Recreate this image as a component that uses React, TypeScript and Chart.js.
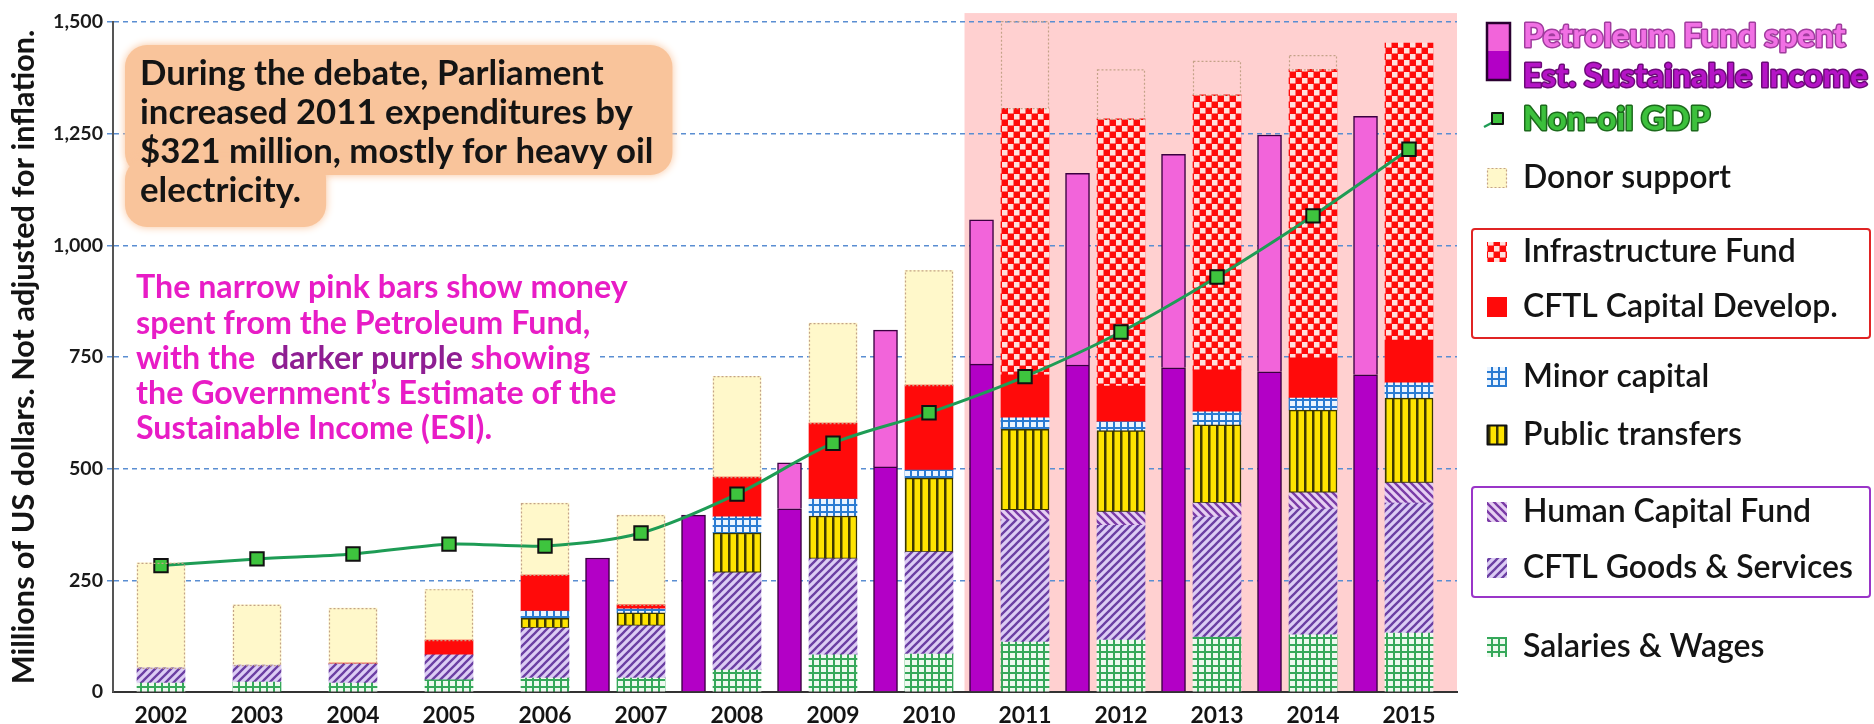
import React, { useEffect, useRef } from 'react';
import { Chart, registerables } from 'chart.js';

Chart.register(...registerables);

// ---------------- data ----------------
const years = ['2002', '2003', '2004', '2005', '2006', '2007', '2008', '2009', '2010', '2011', '2012', '2013', '2014', '2015'];
const yTicks = [0, 250, 500, 750, 1000, 1250, 1500];

const salariesWages = [20, 22, 20, 27, 31, 31, 49, 83, 85, 112, 116, 123, 128, 132];
const goodsServices = [34, 38, 43, 56, 112, 117, 218, 215, 228, 273, 257, 269, 282, 291];
const humanCapitalFund = [null, null, null, null, null, null, null, null, null, 22, 30, 31, 36, 45];
const publicTransfers = [null, null, null, null, 22, 29, 89, 96, 166, 181, 182, 175, 185, 190];
const minorCapital = [null, null, null, null, 16, 9, 36, 38, 18, 26, 20, 29, 27, 34];
const capitalDevelop = [null, null, 2, 33, 81, 9, 89, 170, 190, 96, 80, 94, 90, 96];
const infrastructureFund = [null, null, null, null, null, null, null, null, null, 597, 598, 616, 646, 665];
const donorSupport = [235, 135, 123, 114, 161, 201, 226, 224, 257, 195, 111, 76, 32, null];

const pfYears = ['2007', '2008', '2009', '2010', '2011', '2012', '2013', '2014', '2015'];
const pfEsi = [300, 396, 410, 504, 734, 732, 726, 717, 710];
const pfAboveEsi = [null, null, 103, 306, 323, 429, 478, 530, 579];

const nonOilGdp = [283, 298, 309, 331, 327, 356, 443, 557, 625, 706, 806, 929, 1066, 1215];

const L_PF = 'Petroleum Fund spent';
const L_ESI = 'Est. Sustainable Income';
const L_GDP = 'Non-oil GDP';
const L_DONOR = 'Donor support';
const L_INFRA = 'Infrastructure Fund';
const L_CAP = 'CFTL Capital Develop.';
const L_MINOR = 'Minor capital';
const L_PUBLIC = 'Public transfers';
const L_HCF = 'Human Capital Fund';
const L_GOODS = 'CFTL Goods & Services';
const L_SAL = 'Salaries & Wages';

const Y_TITLE = 'Millions of US dollars. Not adjusted for inflation.';
const ORANGE_NOTE = [
  'During the debate, Parliament',
  'increased 2011 expenditures by',
  '$321 million, mostly for heavy oil',
  'electricity.',
];
const MAGENTA_NOTE = [
  'The narrow pink bars show money',
  'spent from the Petroleum Fund,',
  'with the  |darker purple| showing',
  'the Government\u2019s Estimate of the',
  'Sustainable Income (ESI).',
];

// ---------------- styles ----------------
const FAMILY = "Lato, 'Noto Sans', 'DejaVu Sans', sans-serif";
const PINK = '#F264DA';
const PURPLE = '#B300C6';
const BG_PINK = '#FFD0D0';
const DONOR_FILL = '#FFF8CA';
const RED = '#FF0A0A';
const NARROW_SHIFT = 0.453;

function makePattern(w: number, h: number, draw: (g: CanvasRenderingContext2D) => void) {
  const c = document.createElement('canvas');
  c.width = w;
  c.height = h;
  const g = c.getContext('2d')!;
  draw(g);
  return g.createPattern(c, 'repeat')!;
}

export default function App() {
  const ref = useRef<HTMLCanvasElement>(null);

  useEffect(() => {
    const canvas = ref.current!;
    const mctx = document.createElement('canvas').getContext('2d')!;
    const fit = (text: string, weight: string, target: number) => {
      mctx.font = `${weight} 100px ${FAMILY}`;
      return (100 * target) / mctx.measureText(text).width;
    };
    const yTitleSize = fit(Y_TITLE, 'bold', 655);
    const yTickSize = fit('1,500', 'bold', 50);
    const xTickSize = fit('2002', 'bold', 53);
    const orangeSize = fit(ORANGE_NOTE[1], 'bold', 493);
    const magentaSize = fit(MAGENTA_NOTE[0], 'bold', 492);
    const legendSize = fit(L_GOODS, '600', 330);
    const legendOutSize = fit(L_ESI, '900', 345);

    // patterns
    const salPat = makePattern(7, 7, (g) => {
      g.fillStyle = '#EEF9EF';
      g.fillRect(0, 0, 7, 7);
      g.fillStyle = '#36A85A';
      g.fillRect(0, 0, 7, 2);
      g.fillRect(0, 0, 2, 7);
    });
    const minorPat = makePattern(7, 7, (g) => {
      g.fillStyle = '#EAF4FF';
      g.fillRect(0, 0, 7, 7);
      g.fillStyle = '#2A7BD2';
      g.fillRect(0, 0, 7, 2);
      g.fillRect(0, 0, 2, 7);
    });
    const goodsPat = makePattern(8, 8, (g) => {
      g.fillStyle = '#DCCDF4';
      g.fillRect(0, 0, 8, 8);
      g.strokeStyle = '#6B3FA3';
      g.lineWidth = 2.3;
      g.beginPath();
      g.moveTo(-1, 9); g.lineTo(9, -1);
      g.moveTo(-5, 5); g.lineTo(5, -5);
      g.moveTo(3, 13); g.lineTo(13, 3);
      g.stroke();
    });
    const hcfPat = makePattern(8, 8, (g) => {
      g.fillStyle = '#E6CFF2';
      g.fillRect(0, 0, 8, 8);
      g.strokeStyle = '#7A3AA6';
      g.lineWidth = 2.3;
      g.beginPath();
      g.moveTo(-1, -1); g.lineTo(9, 9);
      g.moveTo(-5, 3); g.lineTo(5, 13);
      g.moveTo(3, -5); g.lineTo(13, 5);
      g.stroke();
    });
    const pubPat = makePattern(8, 8, (g) => {
      g.fillStyle = '#FFE400';
      g.fillRect(0, 0, 8, 8);
      g.fillStyle = '#3F3A00';
      g.fillRect(0, 0, 2.5, 8);
    });
    const infraPat = makePattern(12, 12, (g) => {
      g.fillStyle = RED;
      g.fillRect(0, 0, 12, 12);
      g.fillStyle = '#FFE0DC';
      g.fillRect(0, 0, 5.5, 5.5);
      g.fillRect(6, 6, 5.5, 5.5);
    });

    const pfX = (yr: string) => years.indexOf(yr) - NARROW_SHIFT;

    const wide = (label: string, data: any[], bg: any, extra: any = {}) => ({
      type: 'bar',
      label,
      data,
      xAxisID: 'x',
      yAxisID: 'y',
      stack: 'main',
      order: 2,
      grouped: false,
      barThickness: 48,
      backgroundColor: bg,
      borderWidth: 0,
      ...extra,
    });

    const donorFill = years.map((_, i) => (i >= 9 ? 'rgba(0,0,0,0)' : DONOR_FILL));

    const datasets: any[] = [
      {
        type: 'line',
        label: L_GDP,
        data: nonOilGdp,
        xAxisID: 'x',
        yAxisID: 'y',
        stack: 'gdp',
        order: 0,
        borderColor: '#1E9C55',
        borderWidth: 3,
        tension: 0.3,
        pointStyle: 'rect',
        pointRadius: 9.5,
        pointBackgroundColor: '#3EC43E',
        pointBorderColor: '#111',
        pointBorderWidth: 2,
      },
      wide(L_SAL, salariesWages, salPat),
      wide(L_GOODS, goodsServices, goodsPat),
      wide(L_HCF, humanCapitalFund, hcfPat),
      wide(L_PUBLIC, publicTransfers, pubPat, { borderWidth: 1.5, borderColor: '#3A3600', borderSkipped: false }),
      wide(L_MINOR, minorCapital, minorPat),
      wide(L_CAP, capitalDevelop, RED),
      wide(L_INFRA, infrastructureFund, infraPat),
      wide(L_DONOR, donorSupport, donorFill),
      {
        type: 'bar',
        label: L_ESI,
        data: pfYears.map((yr, i) => ({ x: pfX(yr), y: pfEsi[i] })),
        xAxisID: 'x2',
        yAxisID: 'y',
        stack: 'pf',
        order: 1,
        grouped: false,
        barThickness: 24,
        backgroundColor: PURPLE,
        borderColor: '#3A0040',
        borderWidth: 1.5,
      },
      {
        type: 'bar',
        label: L_PF,
        data: pfYears.map((yr, i) => ({ x: pfX(yr), y: pfAboveEsi[i] })),
        xAxisID: 'x2',
        yAxisID: 'y',
        stack: 'pf',
        order: 1,
        grouped: false,
        barThickness: 24,
        backgroundColor: PINK,
        borderColor: '#3A0040',
        borderWidth: 1.5,
      },
    ];
    const donorIndex = datasets.findIndex((d) => d.label === L_DONOR);

    const bgPlugin = {
      id: 'bgRegion',
      beforeDraw(chart: any) {
        const { ctx, chartArea } = chart;
        const x2 = chart.scales.x2;
        const y = chart.scales.y;
        const left = x2.getPixelForValue(years.indexOf('2011') - 0.63);
        const top = y.getPixelForValue(1520);
        ctx.save();
        ctx.fillStyle = BG_PINK;
        ctx.fillRect(left, top, chartArea.right - left, chartArea.bottom - top);
        ctx.restore();
      },
    };

    const overlayPlugin = {
      id: 'overlay',
      afterDatasetsDraw(chart: any) {
        const { ctx } = chart;
        // dotted outlines of donor support
        const meta = chart.getDatasetMeta(donorIndex);
        ctx.save();
        ctx.setLineDash([2, 2]);
        ctx.strokeStyle = '#C4A288';
        ctx.lineWidth = 1.2;
        meta.data.forEach((el: any, i: number) => {
          if (donorSupport[i] == null) return;
          const p = el.getProps(['x', 'y', 'base', 'width'], true);
          if (!isFinite(p.y)) return;
          ctx.strokeRect(p.x - p.width / 2 + 0.5, p.y + 0.5, p.width - 1, p.base - p.y);
        });
        ctx.restore();

        // orange note
        ctx.save();
        ctx.font = `bold ${orangeSize}px ${FAMILY}`;
        const oBase = [85, 124, 163, 202];
        const widths = ORANGE_NOTE.map((l) => ctx.measureText(l).width);
        const wTop = Math.max(widths[0], widths[1], widths[2]);
        ctx.fillStyle = '#F9C49B';
        ctx.shadowColor = '#F9C49B';
        ctx.shadowBlur = 8;
        ctx.beginPath();
        ctx.roundRect(125, oBase[0] - 40, wTop + 34, oBase[2] - oBase[0] + 52, 22);
        ctx.fill();
        ctx.beginPath();
        ctx.roundRect(125, oBase[3] - 44, widths[3] + 40, 69, 22);
        ctx.fill();
        ctx.shadowBlur = 0;
        ctx.fillStyle = '#141414';
        ctx.textBaseline = 'alphabetic';
        ORANGE_NOTE.forEach((line, i) => ctx.fillText(line, 140, oBase[i]));
        ctx.restore();

        // magenta note
        ctx.save();
        ctx.font = `bold ${magentaSize}px ${FAMILY}`;
        ctx.textBaseline = 'middle';
        const mY = [288, 324, 359, 394, 429];
        MAGENTA_NOTE.forEach((line, i) => {
          const parts = line.split('|');
          const w = ctx.measureText(parts.join('')).width;
          ctx.fillStyle = '#FFFFFF';
          ctx.fillRect(128, mY[i] - 16, w + 16, 32);
          let x = 136;
          parts.forEach((p, k) => {
            ctx.fillStyle = k === 1 ? '#8E1E92' : '#E81CC6';
            ctx.fillText(p, x, mY[i]);
            x += ctx.measureText(p).width;
          });
        });
        ctx.restore();
      },
      afterDraw(chart: any) {
        const { ctx } = chart;
        const IX = 1487;
        const TX = 1523;
        ctx.save();
        ctx.textBaseline = 'middle';
        const outlined = (t: string, y: number, fill: string, stroke: string) => {
          ctx.font = `900 ${legendOutSize}px ${FAMILY}`;
          ctx.lineJoin = 'round';
          ctx.lineWidth = 3;
          ctx.strokeStyle = stroke;
          ctx.strokeText(t, TX, y);
          ctx.fillStyle = fill;
          ctx.fillText(t, TX, y);
        };
        const plain = (t: string, y: number) => {
          ctx.font = `600 ${legendSize}px ${FAMILY}`;
          ctx.fillStyle = '#141414';
          ctx.fillText(t, TX, y);
        };
        const icon = (y: number, fill: any, border?: string, dash?: boolean) => {
          ctx.fillStyle = fill;
          ctx.fillRect(IX, y - 10, 20, 20);
          if (border) {
            ctx.save();
            if (dash) ctx.setLineDash([2, 2]);
            ctx.strokeStyle = border;
            ctx.lineWidth = dash ? 1.2 : 2;
            ctx.strokeRect(IX + 0.5, y - 9.5, 19, 19);
            ctx.restore();
          }
        };

        // petroleum fund icon
        ctx.fillStyle = PINK;
        ctx.fillRect(IX, 23, 23, 28);
        ctx.fillStyle = PURPLE;
        ctx.fillRect(IX, 51, 23, 29);
        ctx.strokeStyle = '#2A0030';
        ctx.lineWidth = 2.5;
        ctx.strokeRect(IX, 23, 23, 57);
        outlined(L_PF, 36, '#F170E4', '#A03C9E');
        outlined(L_ESI, 76, '#B514C6', '#6C0A78');

        // gdp icon
        ctx.strokeStyle = '#1E9C55';
        ctx.lineWidth = 2.5;
        ctx.beginPath();
        ctx.moveTo(IX - 3, 127);
        ctx.lineTo(IX + 10, 120);
        ctx.stroke();
        ctx.fillStyle = '#3EC43E';
        ctx.fillRect(IX + 5, 113, 11, 11);
        ctx.strokeStyle = '#111';
        ctx.lineWidth = 2;
        ctx.strokeRect(IX + 5, 113, 11, 11);
        outlined(L_GDP, 119, '#3CC03C', '#1C6A1C');

        icon(178, DONOR_FILL, '#C4A288', true);
        plain(L_DONOR, 178);

        ctx.strokeStyle = '#E02424';
        ctx.lineWidth = 2;
        ctx.beginPath();
        ctx.roundRect(1472, 229, 398, 109, 3);
        ctx.stroke();
        icon(252, infraPat);
        plain(L_INFRA, 252);
        icon(307, RED);
        plain(L_CAP, 307);

        icon(377, minorPat);
        plain(L_MINOR, 377);
        icon(435, pubPat, '#111');
        plain(L_PUBLIC, 435);

        ctx.strokeStyle = '#9A35C8';
        ctx.lineWidth = 2;
        ctx.beginPath();
        ctx.roundRect(1472, 487, 398, 110, 3);
        ctx.stroke();
        icon(512, hcfPat);
        plain(L_HCF, 512);
        icon(568, goodsPat);
        plain(L_GOODS, 568);

        icon(647, salPat);
        plain(L_SAL, 647);
        ctx.restore();
      },
    };

    const chart = new Chart(canvas, {
      type: 'bar',
      data: { labels: years, datasets },
      options: {
        responsive: false,
        animation: false,
        devicePixelRatio: 1,
        layout: { padding: { left: 0, top: 22, right: 417, bottom: 0 } },
        plugins: { legend: { display: false }, tooltip: { enabled: false } },
        scales: {
          x: {
            type: 'category',
            labels: years,
            offset: true,
            grid: { display: false },
            border: { display: true, color: '#333', width: 2 },
            ticks: {
              font: { family: FAMILY, size: xTickSize, weight: 'bold' },
              color: '#141414',
              padding: 2,
              maxRotation: 0,
              autoSkip: false,
            },
            afterFit: (s: any) => {
              s.height = 32;
            },
          },
          x2: {
            type: 'linear',
            display: false,
            offset: false,
            bounds: 'data',
            grace: 0,
            min: -0.5,
            max: 13.5,
            grid: { offset: false },
            afterBuildTicks: (s: any) => {
              s.ticks = [{ value: -0.5 }, { value: 13.5 }];
              s.min = -0.5;
              s.max = 13.5;
            },
          },
          y: {
            stacked: true,
            min: 0,
            max: 1500,
            afterBuildTicks: (s: any) => {
              s.ticks = yTicks.map((v) => ({ value: v }));
            },
            ticks: {
              font: { family: FAMILY, size: yTickSize, weight: 'bold' },
              color: '#1a1a1a',
              padding: 4,
              callback: (v: any) => Number(v).toLocaleString('en-US'),
            },
            grid: {
              color: (c: any) => (c.tick && c.tick.value === 0 ? 'rgba(0,0,0,0)' : '#5A8ED2'),
              lineWidth: 1.5,
              tickLength: 6,
            },
            border: { display: true, color: '#555', width: 2, dash: [5, 4] },
            title: {
              display: true,
              text: Y_TITLE,
              color: '#141414',
              font: { family: FAMILY, size: yTitleSize, weight: 'bold' },
              padding: { top: 6, bottom: 0 },
            },
            afterFit: (s: any) => {
              s.width = 113;
            },
          },
        },
      },
      plugins: [bgPlugin, overlayPlugin],
    } as any);

    return () => chart.destroy();
  }, []);

  return (
    <div style={{ position: 'fixed', left: 0, top: 0, width: 1874, height: 724, background: '#fff' }}>
      <canvas ref={ref} width={1874} height={724} style={{ display: 'block', width: 1874, height: 724 }} />
    </div>
  );
}
